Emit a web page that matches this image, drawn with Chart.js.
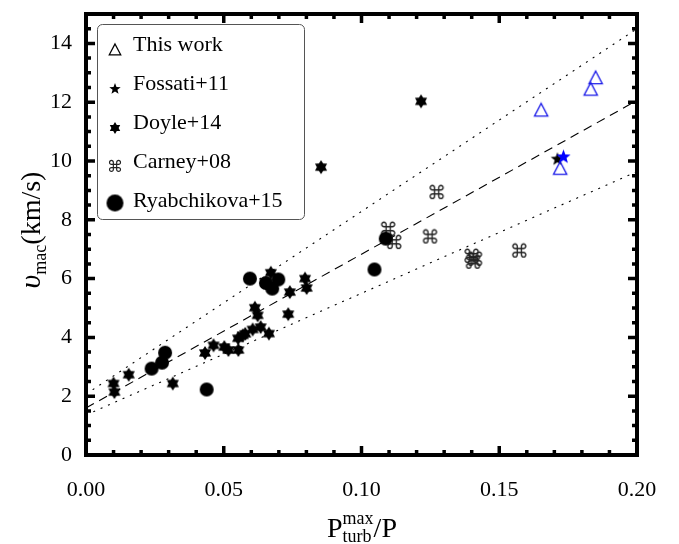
<!DOCTYPE html>
<html>
<head>
<meta charset="utf-8">
<script src="https://cdn.jsdelivr.net/npm/chart.js@4.4.1/dist/chart.umd.min.js"></script>
<style>
  html, body { margin: 0; padding: 0; background: #fff; }
  #wrap { width: 679px; height: 544px; }
</style>
</head>
<body>
<div id="wrap"><canvas id="chart" width="679" height="544"></canvas></div>
<script>
// data
const thisWorkX = [0.1652, 0.1832, 0.1850, 0.1721];
const thisWorkY = [11.72, 12.43, 12.82, 9.74];
const thisWorkStarX = [0.1733];
const thisWorkStarY = [10.14];
const fossatiX = [0.1711];
const fossatiY = [10.06];
const doyleX = [0.0100, 0.0103, 0.0155, 0.0315, 0.0432, 0.0463, 0.0502, 0.0517, 0.0553, 0.0552, 0.0569, 0.0578,
  0.0605, 0.0634, 0.0664, 0.0613, 0.0623, 0.0671, 0.0740, 0.0734, 0.0795, 0.0801, 0.0853, 0.1216];
const doyleY = [2.43, 2.14, 2.73, 2.43, 3.47, 3.73, 3.67, 3.57, 3.57, 3.97, 4.07, 4.12,
  4.27, 4.35, 4.13, 5.01, 4.75, 6.20, 5.54, 4.79, 6.00, 5.68, 9.79, 12.03];
const carneyX = [0.1097, 0.1119, 0.1249, 0.1273, 0.1400, 0.1412, 0.1405, 0.1573];
const carneyY = [7.64, 7.19, 7.38, 8.89, 6.72, 6.62, 6.52, 6.90];
const ryabX = [0.0238, 0.0276, 0.0287, 0.0438, 0.0595, 0.0653, 0.0676, 0.0698, 0.1088, 0.1047];
const ryabY = [2.94, 3.14, 3.48, 2.23, 6.00, 5.85, 5.66, 5.97, 7.36, 6.31];
const fitX = [0, 0.2];
const fitMid = [1.60, 12.06];
const fitUpper = [2.07, 14.50];
const fitLower = [1.36, 9.64];
const xTicks = [0, 0.05, 0.10, 0.15, 0.20];
const yTicks = [0, 2, 4, 6, 8, 10, 12, 14];

const pts = (xs, ys) => xs.map((x, i) => ({ x: x, y: ys[i] }));

// marker images
function makeMark(kind, color, size) {
  const c = document.createElement("canvas");
  c.width = size + 4;
  c.height = size + 4;
  const g = c.getContext("2d");
  const cx = c.width / 2, cy = c.height / 2, r = size / 2;
  g.fillStyle = color;
  g.strokeStyle = color;
  if (kind == "tri") {
    g.lineWidth = 1.3;
    g.beginPath();
    g.moveTo(cx, cy - r);
    g.lineTo(cx + r * 0.95, cy + r * 0.8);
    g.lineTo(cx - r * 0.95, cy + r * 0.8);
    g.closePath();
    g.stroke();
  } else if (kind == "star5") {
    g.beginPath();
    for (let i = 0; i < 10; i++) {
      const a = -Math.PI / 2 + i * Math.PI / 5;
      const rr = i % 2 == 0 ? r : r * 0.42;
      g.lineTo(cx + rr * Math.cos(a), cy + rr * Math.sin(a));
    }
    g.closePath();
    g.fill();
  } else if (kind == "star6") {
    g.beginPath();
    for (let i = 0; i < 12; i++) {
      const a = -Math.PI / 2 + i * Math.PI / 6;
      const rr = i % 2 == 0 ? r : r * 0.6;
      g.lineTo(cx + rr * Math.cos(a), cy + rr * Math.sin(a));
    }
    g.closePath();
    g.fill();
  } else if (kind == "cmd") {
    g.font = size + 'px "DejaVu Sans"';
    g.textAlign = "center";
    g.textBaseline = "middle";
    g.fillText("\u2318", cx, cy + 1);
  } else {
    g.beginPath();
    g.arc(cx, cy, r, 0, Math.PI * 2);
    g.fill();
  }
  return c;
}

const marks = {
  tri: makeMark("tri", "#1818e8", 14),
  starBlue: makeMark("star5", "#0000ff", 15),
  star5: makeMark("star5", "#000", 14),
  star6: makeMark("star6", "#000", 14),
  cmd: makeMark("cmd", "#222", 19),
  dot: makeMark("dot", "#000", 14),
};
const legendMarks = [
  { label: "This work", img: makeMark("tri", "#000", 12), y: 50 },
  { label: "Fossati+11", img: makeMark("star5", "#000", 12), y: 89 },
  { label: "Doyle+14", img: makeMark("star6", "#000", 12), y: 128 },
  { label: "Carney+08", img: makeMark("cmd", "#222", 16), y: 167 },
  { label: "Ryabchikova+15", img: makeMark("dot", "#000", 17), y: 203 },
];

const serif = '"Liberation Serif", "DejaVu Serif", serif';

// frame, inward ticks, axis titles, legend box
const framePlugin = {
  id: "frame",
  afterDraw(chart) {
    const ctx = chart.ctx;
    const a = chart.chartArea;
    const xs = chart.scales.x, ys = chart.scales.y;
    ctx.save();
    ctx.strokeStyle = "#000";
    ctx.lineWidth = 4;
    ctx.strokeRect(a.left, a.top, a.right - a.left, a.bottom - a.top);
    ctx.lineWidth = 3.5;
    ctx.beginPath();
    for (let v = 0; v <= 20; v++) {
      const px = xs.getPixelForValue(v / 100);
      const len = v % 5 == 0 ? 9 : 5;
      ctx.moveTo(px, a.bottom); ctx.lineTo(px, a.bottom - len);
      ctx.moveTo(px, a.top); ctx.lineTo(px, a.top + len);
    }
    for (let v = 0; v <= 30; v++) {
      const py = ys.getPixelForValue(v / 2);
      const len = v % 4 == 0 ? 9 : 5;
      ctx.moveTo(a.left, py); ctx.lineTo(a.left + len, py);
      ctx.moveTo(a.right, py); ctx.lineTo(a.right - len, py);
    }
    ctx.stroke();

    // legend
    ctx.fillStyle = "#fff";
    ctx.strokeStyle = "#555";
    ctx.lineWidth = 1;
    ctx.beginPath();
    ctx.roundRect(97.5, 24.5, 207, 195, 5);
    ctx.fill();
    ctx.stroke();
    ctx.fillStyle = "#000";
    ctx.font = "22px " + serif;
    ctx.textBaseline = "alphabetic";
    ctx.textAlign = "left";
    legendMarks.forEach((m) => {
      ctx.drawImage(m.img, 115 - m.img.width / 2, m.y - m.img.height / 2);
      const base = m.label == "Ryabchikova+15" ? 207 : m.y + 1;
      ctx.fillText(m.label, 133, base);
    });

    // x title
    ctx.font = "28px " + serif;
    const wP = ctx.measureText("P").width;
    const wSlash = ctx.measureText("/P").width;
    ctx.font = "18px " + serif;
    const wSub = Math.max(ctx.measureText("turb").width, ctx.measureText("max").width);
    let x0 = 362 - (wP + wSub + wSlash) / 2;
    const base = 537;
    ctx.font = "28px " + serif;
    ctx.fillText("P", x0, base);
    ctx.font = "18px " + serif;
    ctx.fillText("max", x0 + wP, base - 13);
    ctx.fillText("turb", x0 + wP, base + 5);
    ctx.font = "28px " + serif;
    ctx.fillText("/P", x0 + wP + wSub, base);

    // y title
    ctx.translate(40, 230);
    ctx.rotate(-Math.PI / 2);
    ctx.font = "italic 30px " + serif;
    const wU = ctx.measureText("\u03C5").width;
    ctx.font = "18px " + serif;
    const wMac = ctx.measureText("mac").width;
    ctx.font = "28px " + serif;
    const wKm = ctx.measureText("(km/s)").width;
    let y0 = -(wU + wMac + wKm) / 2;
    ctx.font = "italic 30px " + serif;
    ctx.fillText("\u03C5", y0, 0);
    ctx.font = "18px " + serif;
    ctx.fillText("mac", y0 + wU, 6);
    ctx.font = "28px " + serif;
    ctx.fillText("(km/s)", y0 + wU + wMac, 0);
    ctx.restore();
  },
};

const lineSet = (label, ys, dash) => ({
  type: "line",
  label: label,
  data: pts(fitX, ys),
  borderColor: "#000",
  borderWidth: 1.1,
  borderDash: dash,
  pointRadius: 0,
  fill: false,
  order: 10,
});

const ctx = document.getElementById("chart");
new Chart(ctx, {
  type: "scatter",
  data: {
    datasets: [
      { label: "This work", data: pts(thisWorkX, thisWorkY), pointStyle: marks.tri, order: 1 },
      { label: "This work star", data: pts(thisWorkStarX, thisWorkStarY), pointStyle: marks.starBlue, order: 0 },
      { label: "Fossati+11", data: pts(fossatiX, fossatiY), pointStyle: marks.star5, order: 1 },
      { label: "Doyle+14", data: pts(doyleX, doyleY), pointStyle: marks.star6, order: 2 },
      { label: "Carney+08", data: pts(carneyX, carneyY), pointStyle: marks.cmd, order: 4 },
      { label: "Ryabchikova+15", data: pts(ryabX, ryabY), pointStyle: marks.dot, order: 3 },
      lineSet("fit", fitMid, [9, 6]),
      lineSet("upper", fitUpper, [2, 6]),
      lineSet("lower", fitLower, [2, 6]),
    ],
  },
  options: {
    responsive: false,
    animation: false,
    layout: { padding: { left: 0, top: 14, right: 42, bottom: 0 } },
    plugins: {
      legend: { display: false },
      tooltip: { enabled: false },
    },
    scales: {
      x: {
        type: "linear",
        min: 0,
        max: 0.2,
        grid: { display: false },
        border: { display: false },
        afterFit: (s) => { s.height = 89; s.paddingLeft = 0; s.paddingRight = 0; },
        afterBuildTicks: (s) => { s.ticks = xTicks.map((v) => ({ value: v })); },
        ticks: {
          padding: 14,
          color: "#000",
          font: { family: serif, size: 22 },
          callback: (v) => v.toFixed(2),
        },
      },
      y: {
        type: "linear",
        min: 0,
        max: 15,
        grid: { display: false },
        border: { display: false },
        afterFit: (s) => { s.width = 86; s.paddingTop = 0; s.paddingBottom = 0; },
        afterBuildTicks: (s) => { s.ticks = yTicks.map((v) => ({ value: v })); },
        ticks: {
          padding: 6,
          color: "#000",
          font: { family: serif, size: 22 },
        },
      },
    },
  },
  plugins: [framePlugin],
});
</script>
</body>
</html>
